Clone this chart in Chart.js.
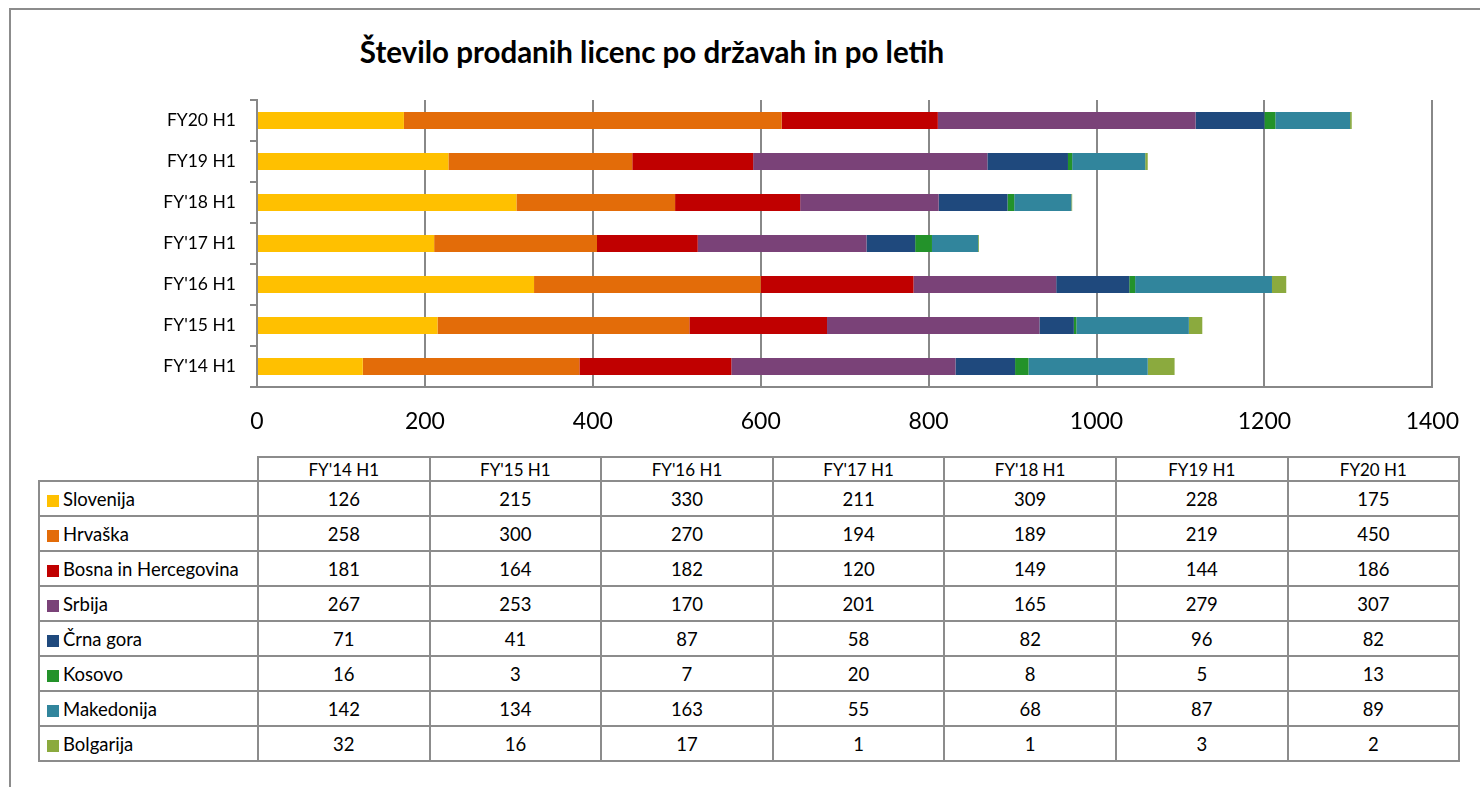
<!DOCTYPE html>
<html>
<head>
<meta charset="utf-8">
<script src="https://cdn.jsdelivr.net/npm/chart.js@4"></script>
<style>
  html, body { margin: 0; padding: 0; background: #fff; width: 1480px; height: 787px; overflow: hidden; font-family: Lato, "Noto Sans", sans-serif; }
  #frame { position: absolute; left: 9px; top: 8px; width: 1500px; height: 800px; border-left: 2px solid #8c8c8c; border-top: 2px solid #8c8c8c; }
  #title { position: absolute; left: 302px; width: 700px; top: 34px; text-align: center; font-weight: bold; font-size: 29.5px; color: #000; white-space: nowrap; }
  #wrap { position: absolute; left: 0; top: 0; width: 1480px; height: 445px; }
  #tbl { position: absolute; left: 38px; top: 456px; border-collapse: collapse; table-layout: fixed; color: #000; }
  #tbl td { border: 2px solid #8c8c8c; padding: 0; text-align: center; font-size: 18.5px; height: 33px; }
  #tbl tr.head td { font-size: 17px; height: 22px; }
  #tbl tr.head td.blank { border: none; }
  #tbl td.lab { text-align: left; padding-left: 7px; white-space: nowrap; }
  #tbl .key { display: inline-block; width: 12px; height: 12px; margin-right: 4px; vertical-align: -1px; }
</style>
</head>
<body>
<div id="frame"></div>
<div id="title">Število prodanih licenc po državah in po letih</div>
<div id="wrap"><canvas id="licChart"></canvas></div>
<table id="tbl"></table>
<script>
// podatki
var categories = ["FY'14 H1", "FY'15 H1", "FY'16 H1", "FY'17 H1", "FY'18 H1", "FY19 H1", "FY20 H1"];
var countries = ["Slovenija", "Hrvaška", "Bosna in Hercegovina", "Srbija", "Črna gora", "Kosovo", "Makedonija", "Bolgarija"];
var slovenija = [126, 215, 330, 211, 309, 228, 175];
var hrvaska = [258, 300, 270, 194, 189, 219, 450];
var bosna = [181, 164, 182, 120, 149, 144, 186];
var srbija = [267, 253, 170, 201, 165, 279, 307];
var crnaGora = [71, 41, 87, 58, 82, 96, 82];
var kosovo = [16, 3, 7, 20, 8, 5, 13];
var makedonija = [142, 134, 163, 55, 68, 87, 89];
var bolgarija = [32, 16, 17, 1, 1, 3, 2];
var xTicks = [0, 200, 400, 600, 800, 1000, 1200, 1400];

var seriesValues = [slovenija, hrvaska, bosna, srbija, crnaGora, kosovo, makedonija, bolgarija];
var colors = ["#FFC000", "#E36C09", "#C00000", "#7A4278", "#1F497D", "#23922A", "#31859C", "#8BAA3E"];

document.addEventListener("DOMContentLoaded", function () {
    var ctx = document.getElementById("licChart").getContext("2d");

    var datasets = countries.map(function (name, i) {
        return {
            label: name,
            data: seriesValues[i],
            backgroundColor: colors[i],
            borderWidth: 0,
            barPercentage: 0.42,
            categoryPercentage: 1
        };
    });

    new Chart(ctx, {
        type: "bar",
        data: { labels: categories, datasets: datasets },
        options: {
            indexAxis: "y",
            responsive: true,
            maintainAspectRatio: false,
            animation: false,
            layout: { padding: { top: 100, right: 47, left: 0, bottom: 0 } },
            plugins: {
                legend: { display: false },
                tooltip: { enabled: false },
                title: { display: false }
            },
            scales: {
                x: {
                    stacked: true,
                    min: xTicks[0],
                    max: xTicks[xTicks.length - 1],
                    afterBuildTicks: function (scale) {
                        scale.ticks = xTicks.map(function (v) { return { value: v }; });
                    },
                    afterFit: function (scale) { scale.height = 58; },
                    ticks: {
                        color: "#000", font: { family: "Lato", size: 23 }, padding: 21, maxRotation: 0,
                        callback: function (v) { return String(v); }
                    },
                    grid: { color: "#888", lineWidth: 2, drawTicks: false },
                    border: { display: true, color: "#888", width: 2 }
                },
                y: {
                    stacked: true,
                    reverse: true,
                    afterFit: function (scale) { scale.width = 257; },
                    ticks: { color: "#000", font: { family: "Lato", size: 17.5 }, padding: 14 },
                    grid: { drawOnChartArea: false, color: "#888", lineWidth: 2, tickLength: 7, offset: true },
                    border: { display: true, color: "#888", width: 2 }
                }
            }
        }
    });

    // tabela s podatki pod grafom
    var tbl = document.getElementById("tbl");
    var html = "<colgroup><col style='width:219px'>";
    categories.forEach(function () { html += "<col style='width:171.6px'>"; });
    html += "</colgroup><tr class='head'><td class='blank'></td>";
    categories.forEach(function (c) { html += "<td>" + c + "</td>"; });
    html += "</tr>";
    countries.forEach(function (name, i) {
        html += "<tr><td class='lab'><span class='key' style='background:" + colors[i] + "'></span>" + name + "</td>";
        seriesValues[i].forEach(function (v) { html += "<td>" + v + "</td>"; });
        html += "</tr>";
    });
    tbl.innerHTML = html;
});
</script>
</body>
</html>
